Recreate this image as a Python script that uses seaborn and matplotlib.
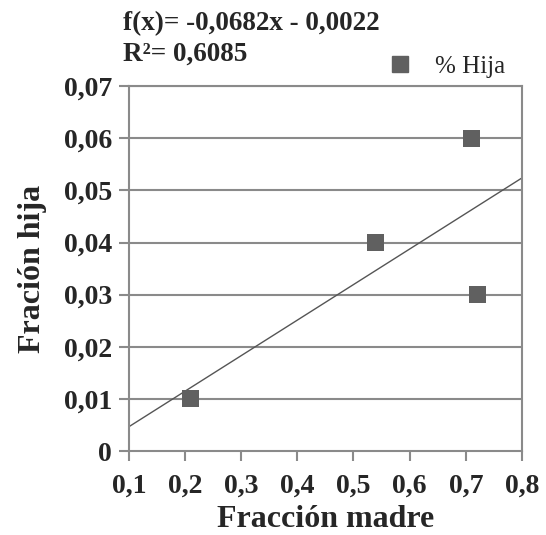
import numpy as np
import pandas as pd
import seaborn as sns
import matplotlib.pyplot as plt
from matplotlib.lines import Line2D

# data
madre = [0.21, 0.54, 0.71, 0.72]
hija = [0.01, 0.04, 0.06, 0.03]
xticks = [0.1, 0.2, 0.3, 0.4, 0.5, 0.6, 0.7, 0.8]
yticks = [0, 0.01, 0.02, 0.03, 0.04, 0.05, 0.06, 0.07]
xlabels = ["0,1", "0,2", "0,3", "0,4", "0,5", "0,6", "0,7", "0,8"]
ylabels = ["0", "0,01", "0,02", "0,03", "0,04", "0,05", "0,06", "0,07"]

df = pd.DataFrame({"madre": madre, "hija": hija})

sns.set_style("white")
plt.rcParams["font.family"] = ["Liberation Serif", "DejaVu Serif"]

grey = "#8a8a8a"
fig = plt.figure(figsize=(5.46, 5.35), dpi=100)
ax = fig.add_axes([0.236, 0.157, 0.72, 0.682])
ax.set_xlim(0.1, 0.8)
ax.set_ylim(0, 0.07)

for y in yticks[1:]:
    ax.axhline(y, color=grey, lw=1.5, zorder=0)

sns.regplot(data=df, x="madre", y="hija", ax=ax, ci=None, truncate=False,
            scatter=False, line_kws={"color": "#555555", "lw": 1.0})
sns.scatterplot(data=df, x="madre", y="hija", ax=ax, marker="s", s=150,
                color="#606060", edgecolor="none", zorder=3)

ax.set_xticks(xticks)
ax.set_xticklabels(xlabels, fontweight="bold", fontsize=20)
ax.set_yticks(yticks)
ax.set_yticklabels(ylabels, fontweight="bold", fontsize=20)
ax.tick_params(axis="both", direction="out", length=7, width=1.5, color=grey,
               bottom=True, left=True)
ax.tick_params(axis="x", pad=9)
ax.tick_params(axis="y", pad=5)
for s in ax.spines.values():
    s.set_color(grey)
    s.set_linewidth(1.5)

ax.set_xlabel("Fracción madre", fontsize=23, fontweight="bold", labelpad=5)
ax.set_ylabel("Fración hija", fontsize=23, fontweight="bold", labelpad=12)

fig.text(0.225, 0.955, "f(x)= -0,0682x - 0,0022", fontsize=19.5,
         fontweight="bold", va="center")
fig.text(0.225, 0.899, "R²= 0,6085", fontsize=19.5,
         fontweight="bold", va="center")

h = Line2D([], [], marker="s", ls="none", color="#606060", markersize=11)
fig.legend([h], ["% Hija"], loc="center left", bbox_to_anchor=(0.668, 0.875),
           frameon=False, fontsize=18, handletextpad=0.9, handlelength=1.0)

fig.savefig("out.png", dpi=100)
